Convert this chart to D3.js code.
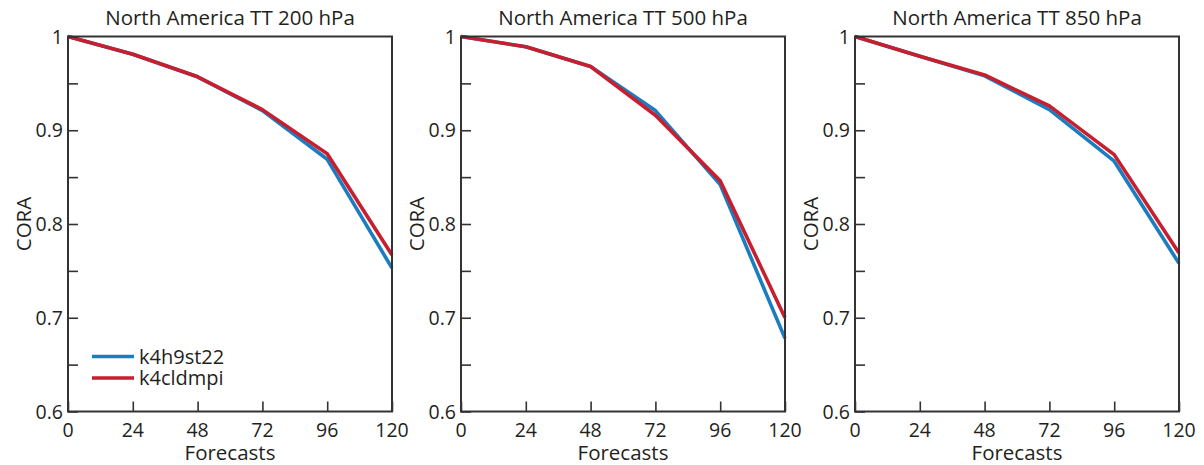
<!DOCTYPE html>
<html>
<head>
<meta charset="utf-8">
<script src="https://cdn.jsdelivr.net/npm/d3@7"></script>
<style>
  body { margin: 0; background: #fff; }
  text { font-family: "Open Sans", sans-serif; fill: #231f20; }
</style>
</head>
<body>
<div class="chart"></div>
<script>
// forecast hours
const hours = [0, 24, 48, 72, 96, 120];
const titles = ["North America TT 200 hPa", "North America TT 500 hPa", "North America TT 850 hPa"];
const seriesNames = ["k4h9st22", "k4cldmpi"];
const colors = ["#1b7dc0", "#c81f2f"];

// CORA values, one array per panel and series
const blue200 = [1, 0.981, 0.957, 0.921, 0.869, 0.753];
const red200  = [1, 0.981, 0.957, 0.922, 0.875, 0.767];
const blue500 = [1, 0.989, 0.968, 0.921, 0.842, 0.678];
const red500  = [1, 0.989, 0.968, 0.916, 0.846, 0.700];
const blue850 = [1, 0.979, 0.958, 0.922, 0.867, 0.758];
const red850  = [1, 0.979, 0.959, 0.926, 0.874, 0.769];

const panels = [[blue200, red200], [blue500, red500], [blue850, red850]];
const yTicks = [0.6, 0.65, 0.7, 0.75, 0.8, 0.85, 0.9, 0.95, 1];

const width = 1204, height = 465;
const lefts = [68, 461, 855];
const pw = 324;
const plotTop = 36.5, plotBottom = 411.5;

const svg = d3.select('.chart').append('svg')
    .attr("width", width)
    .attr("height", height);

const yScale = d3.scaleLinear().domain([0.6, 1]).range([plotBottom, plotTop]);

panels.forEach((pair, p) => {
  const x0 = lefts[p];
  const xScale = d3.scaleLinear().domain([0, 120]).range([x0, x0 + pw]);
  const g = svg.append("g");

  // lines
  const line = d3.line()
      .x((d, i) => xScale(hours[i]))
      .y(d => yScale(d));
  pair.forEach((vals, s) => {
    g.append("path")
      .datum(vals)
      .attr("d", line)
      .attr("fill", "none")
      .attr("stroke", colors[s])
      .attr("stroke-width", 3.6)
      .attr("stroke-linejoin", "round");
  });

  // frame
  g.append("rect")
    .attr("x", x0).attr("y", plotTop)
    .attr("width", pw).attr("height", plotBottom - plotTop)
    .attr("fill", "none")
    .attr("stroke", "#333")
    .attr("stroke-width", 2);

  // axes with inward ticks
  const xAxis = d3.axisTop(xScale).tickValues(hours).tickSize(10).tickFormat("");
  g.append("g").attr("transform", `translate(0,${plotBottom})`).call(xAxis)
    .call(a => a.select(".domain").remove())
    .selectAll("line").attr("stroke", "#333").attr("stroke-width", 1.6);

  const yAxis = d3.axisRight(yScale).tickValues(yTicks).tickSize(10).tickFormat("");
  g.append("g").attr("transform", `translate(${x0},0)`).call(yAxis)
    .call(a => a.select(".domain").remove())
    .selectAll("line").attr("stroke", "#333").attr("stroke-width", 1.6);

  // tick labels
  g.selectAll(".xl").data(hours).enter().append("text")
    .attr("x", d => xScale(d))
    .attr("y", 437)
    .attr("text-anchor", "middle")
    .attr("font-size", 19.5)
    .text(d => d);

  g.selectAll(".yl").data(yTicks.filter((d, i) => i % 2 == 0)).enter().append("text")
    .attr("x", x0 - 5)
    .attr("y", d => yScale(d) + 7)
    .attr("text-anchor", "end")
    .attr("font-size", 19.5)
    .text(d => d3.format("")(d));

  // labels
  g.append("text")
    .attr("x", x0 + pw / 2)
    .attr("y", 25)
    .attr("text-anchor", "middle")
    .attr("font-size", 20.5)
    .text(titles[p]);

  g.append("text")
    .attr("x", x0 + pw / 2)
    .attr("y", 460)
    .attr("text-anchor", "middle")
    .attr("font-size", 20.5)
    .text("Forecasts");

  g.append("text")
    .attr("transform", `translate(${x0 - 37},${(plotTop + plotBottom) / 2}) rotate(-90)`)
    .attr("text-anchor", "middle")
    .attr("font-size", 20.5)
    .text("CORA");
});

// legend in first panel
const legend = svg.append("g");
seriesNames.forEach((name, i) => {
  legend.append("line")
    .attr("x1", 92).attr("x2", 134)
    .attr("y1", 356.5 + i * 21.5).attr("y2", 356.5 + i * 21.5)
    .attr("stroke", colors[i])
    .attr("stroke-width", 3.6);
  legend.append("text")
    .attr("x", 139)
    .attr("y", 363.5 + i * 21.5)
    .attr("font-size", 20)
    .text(name);
});
</script>
</body>
</html>
